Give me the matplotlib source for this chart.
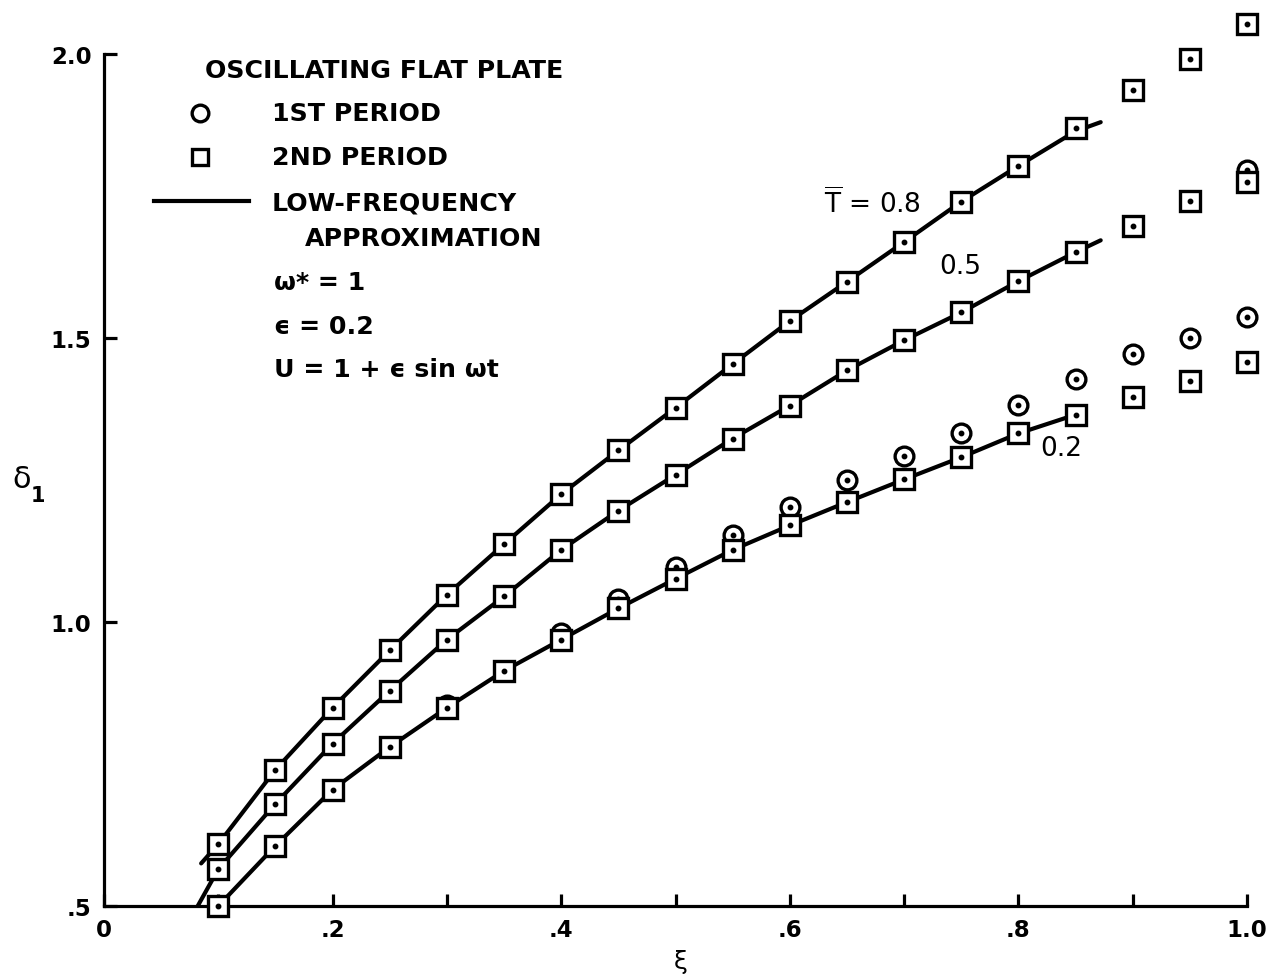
import matplotlib
matplotlib.use("Agg")
import matplotlib.pyplot as plt

# ---------------- data ----------------
xi = [0.10, 0.15, 0.20, 0.25, 0.30, 0.35, 0.40, 0.45, 0.50, 0.55,
      0.60, 0.65, 0.70, 0.75, 0.80, 0.85, 0.90, 0.95, 1.00]

sq_T08 = [0.609, 0.740, 0.849, 0.950, 1.048, 1.137, 1.225, 1.302, 1.377, 1.454,
          1.530, 1.599, 1.669, 1.740, 1.803, 1.869, 1.936, 1.992, 2.052]
sq_T05 = [0.565, 0.680, 0.786, 0.879, 0.969, 1.045, 1.127, 1.196, 1.259, 1.323,
          1.381, 1.443, 1.496, 1.545, 1.600, 1.651, 1.697, 1.741, 1.775]
sq_T02 = [0.500, 0.606, 0.705, 0.780, 0.849, 0.914, 0.969, 1.024, 1.076, 1.127,
          1.170, 1.211, 1.251, 1.290, 1.332, 1.365, 1.397, 1.425, 1.458]

circ_x = [0.30, 0.40, 0.45, 0.50, 0.55, 0.60, 0.65, 0.70, 0.75, 0.80, 0.85, 0.90, 0.95, 1.00, 1.00]
circ_y = [0.853, 0.981, 1.041, 1.096, 1.153, 1.202, 1.250, 1.292, 1.332, 1.382, 1.428, 1.472, 1.500, 1.537, 1.796]

line_T08_x = [0.085, 0.10, 0.15, 0.20, 0.25, 0.30, 0.35, 0.40, 0.45, 0.50, 0.55,
              0.60, 0.65, 0.70, 0.75, 0.80, 0.85, 0.872]
line_T08_y = [0.575, 0.609, 0.740, 0.849, 0.950, 1.048, 1.137, 1.225, 1.302, 1.377, 1.454,
              1.530, 1.599, 1.669, 1.740, 1.803, 1.864, 1.880]
line_T05_x = [0.082, 0.10, 0.15, 0.20, 0.25, 0.30, 0.35, 0.40, 0.45, 0.50, 0.55,
              0.60, 0.65, 0.70, 0.75, 0.80, 0.85, 0.872]
line_T05_y = [0.500, 0.565, 0.680, 0.786, 0.879, 0.969, 1.045, 1.127, 1.196, 1.259, 1.323,
              1.381, 1.443, 1.496, 1.545, 1.600, 1.651, 1.672]
line_T02_x = [0.10, 0.15, 0.20, 0.25, 0.30, 0.35, 0.40, 0.45, 0.50, 0.55,
              0.60, 0.65, 0.70, 0.75, 0.80, 0.85]
line_T02_y = [0.500, 0.606, 0.705, 0.780, 0.849, 0.914, 0.969, 1.024, 1.076, 1.127,
              1.170, 1.211, 1.251, 1.290, 1.332, 1.365]

x_ticks = [0.0, 0.2, 0.4, 0.6, 0.8, 1.0]
x_ticklabels = ["0", ".2", ".4", ".6", ".8", "1.0"]
x_minor = [0.1, 0.3, 0.5, 0.7, 0.9]
y_ticks = [0.5, 1.0, 1.5, 2.0]
y_ticklabels = [".5", "1.0", "1.5", "2.0"]

# ---------------- style ----------------
plt.rcParams['font.family'] = ['DejaVu Sans']
plt.rcParams['mathtext.fontset'] = 'dejavusans'

W, H = 1276, 979
fig = plt.figure(figsize=(W / 100, H / 100), dpi=100)
ax = fig.add_axes([104 / W, 1 - 907 / H, (1247 - 104) / W, (907 - 55) / H])
ax.set_xlim(0, 1.0)
ax.set_ylim(0.5, 2.0)

for s in ['top', 'right']:
    ax.spines[s].set_visible(False)
for s in ['left', 'bottom']:
    ax.spines[s].set_linewidth(2.3)

ax.set_xticks(x_ticks)
ax.set_xticklabels(x_ticklabels, fontsize=16.5, fontweight='bold')
ax.set_xticks(x_minor, minor=True)
ax.set_yticks(y_ticks)
ax.set_yticklabels(y_ticklabels, fontsize=16.5, fontweight='bold')
ax.tick_params(axis='both', which='both', direction='in', width=2.3, length=9)
ax.tick_params(axis='x', which='major', pad=9)
ax.tick_params(axis='y', which='major', pad=9)

lw = 3.0
kw_line = dict(color='black', lw=lw, solid_capstyle='round', zorder=2)
ax.plot(line_T08_x, line_T08_y, **kw_line)
ax.plot(line_T05_x, line_T05_y, **kw_line)
ax.plot(line_T02_x, line_T02_y, **kw_line)

ms_sq = 14.5
ms_c = 13.5
mew = 2.4
ax.plot(circ_x, circ_y, ls='none', marker='o', ms=ms_c, mfc='white', mec='black', mew=mew, zorder=3, clip_on=False)
ax.plot(circ_x, circ_y, ls='none', marker='o', ms=3.2, mfc='black', mec='black', zorder=3.5, clip_on=False)
for ys in (sq_T08, sq_T05, sq_T02):
    ax.plot(xi, ys, ls='none', marker='s', ms=ms_sq, mfc='white', mec='black', mew=mew, zorder=4, clip_on=False)
    ax.plot(xi, ys, ls='none', marker='o', ms=3.2, mfc='black', mec='black', zorder=5, clip_on=False)

# curve labels
lbl = dict(fontsize=19, ha='left', va='center', zorder=6)
ax.text(0.630, 1.738, r"$\overline{\mathrm{T}}$ = 0.8", **lbl)
ax.text(0.731, 1.627, "0.5", **lbl)
ax.text(0.819, 1.306, "0.2", **lbl)

# axis labels
fig.text(12 / W, 1 - 480 / H, "\u03b4", fontsize=22, ha='left', va='center')
fig.text(31 / W, 1 - 496 / H, "1", fontsize=15, fontweight='bold', ha='left', va='center')
fig.text(681 / W, 1 - 962 / H, "\u03be", fontsize=18, ha='center', va='center')

# legend block (figure coordinates)
tk = dict(fontsize=18.2, fontweight='bold', ha='left', va='center')
fig.text(205 / W, 1 - 71 / H, "OSCILLATING FLAT PLATE", **tk)
fig.lines.append(plt.Line2D([200 / W], [1 - 114 / H], transform=fig.transFigure, ls='none',
                            marker='o', ms=12, mfc='white', mec='black', mew=2.4))
fig.text(272 / W, 1 - 114 / H, "1ST PERIOD", **tk)
fig.lines.append(plt.Line2D([200 / W], [1 - 158 / H], transform=fig.transFigure, ls='none',
                            marker='s', ms=12, mfc='white', mec='black', mew=2.4))
fig.text(272 / W, 1 - 158 / H, "2ND PERIOD", **tk)
fig.lines.append(plt.Line2D([154 / W, 249 / W], [1 - 202 / H, 1 - 202 / H], transform=fig.transFigure,
                            color='black', lw=3.0))
fig.text(272 / W, 1 - 204 / H, "LOW-FREQUENCY", **tk)
fig.text(305 / W, 1 - 239 / H, "APPROXIMATION", **tk)
fig.text(274 / W, 1 - 283 / H, "\u03c9* = 1", **tk)
fig.text(274 / W, 1 - 327 / H, "\u03f5 = 0.2", **tk)
fig.text(274 / W, 1 - 370 / H, "U = 1 + \u03f5 sin \u03c9t", **tk)

fig.savefig("out.png", dpi=100)
